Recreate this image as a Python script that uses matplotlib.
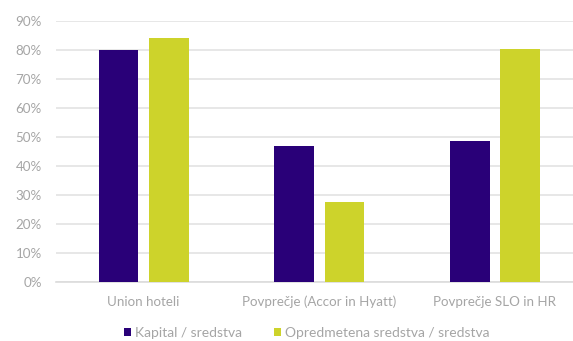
import numpy as np
import matplotlib
matplotlib.use('Agg')
import matplotlib.pyplot as plt
from matplotlib.ticker import PercentFormatter

categories = ['Union hoteli', 'Povprečje (Accor in Hyatt)', 'Povprečje SLO in HR']
kapital = [0.80, 0.47, 0.486]
opredmetena = [0.84, 0.277, 0.802]
series_names = ['Kapital / sredstva', 'Opredmetena sredstva / sredstva']
colors = ['#290078', '#cdd32b']

plt.rcParams['font.family'] = ['Lato', 'DejaVu Sans']
text_gray = '#a5a5a5'

fig = plt.figure(figsize=(5.73, 3.41), dpi=100)
ax = fig.add_axes([55.7 / 573, 59 / 341, (573 - 55.7) / 573, (282 - 20.7) / 341])

x = np.arange(len(categories))
w = 0.226
off = 0.143
ax.bar(x - off, kapital, w, color=colors[0], label=series_names[0], zorder=3)
ax.bar(x + off, opredmetena, w, color=colors[1], label=series_names[1], zorder=3)

ax.set_xlim(-0.5, 2.444)
ax.set_ylim(0, 0.9)
ax.set_yticks(np.arange(0, 0.91, 0.1))
ax.yaxis.set_major_formatter(PercentFormatter(1.0, decimals=0))
ax.set_xticks(x)
ax.set_xticklabels(categories)

ax.grid(axis='y', color='#e3e3e3', linewidth=1.2, zorder=0)
for s in ['top', 'right', 'left']:
    ax.spines[s].set_visible(False)
ax.spines['bottom'].set_color('#dcdcdc')
ax.spines['bottom'].set_linewidth(1.2)
ax.tick_params(axis='both', length=0, colors=text_gray, labelsize=9.6)
ax.tick_params(axis='y', pad=10)
ax.tick_params(axis='x', pad=10)

fig.legend(loc='center', bbox_to_anchor=(307 / 573, 1 - 333 / 341), ncol=2,
           frameon=False, fontsize=10, labelcolor=text_gray,
           handlelength=0.5, handleheight=0.5, handletextpad=0.3,
           columnspacing=2.3)

fig.savefig('out.png', dpi=100)
